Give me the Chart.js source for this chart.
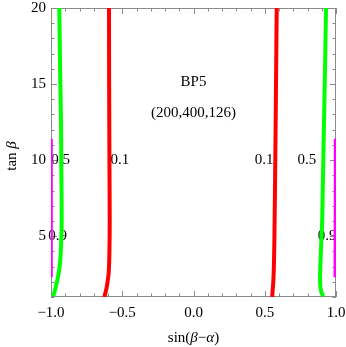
<!DOCTYPE html>
<html>
<head>
<meta charset="utf-8">
<script src="https://cdn.jsdelivr.net/npm/chart.js@4/dist/chart.umd.min.js"></script>
<style>
  html, body { margin: 0; padding: 0; background: #fff; }
  #wrap { width: 346px; height: 347px; }
</style>
</head>
<body>
<div id="wrap"><canvas id="c"></canvas></div>
<script>
// contour curves: tan(beta) values and matching sin(beta-alpha) values
const greenLeftTan = [1.05, 1.64, 2.3, 3.2, 4.5, 6, 10, 12.6, 16, 20];
const greenLeftSin = [-0.984, -0.967, -0.951, -0.937, -0.929, -0.925, -0.928, -0.93, -0.936, -0.942];

const redLeftTan = [1, 1.5, 2, 2.6, 4, 6, 10, 15, 20];
const redLeftSin = [-0.626, -0.612, -0.603, -0.595, -0.59, -0.588, -0.59, -0.592, -0.593];

const redRightTan = [1, 1.5, 2, 3, 5, 10, 15, 20];
const redRightSin = [0.552, 0.556, 0.56, 0.564, 0.568, 0.574, 0.579, 0.584];

const greenRightTan = [1.05, 1.3, 1.7, 2.3, 3, 4.7, 6, 8, 12.6, 16, 20];
const greenRightSin = [0.911, 0.898, 0.89, 0.888, 0.89, 0.897, 0.903, 0.907, 0.916, 0.923, 0.93];

const magentaLeftTan = [2.3, 5, 8, 11.4];
const magentaLeftSin = [-0.998, -0.998, -0.998, -0.998];

const magentaRightTan = [2.3, 5, 8, 11.4];
const magentaRightSin = [0.993, 0.994, 0.995, 0.995];

// contour labels
const contourLabels = ['0.5', '0.1', '0.1', '0.5', '0.9', '0.9'];
const contourLabelSin = [-0.933, -0.516, 0.495, 0.796, -0.954, 0.937];
const contourLabelTan = [10, 10, 10, 10, 5, 5];

const noteLines = ['BP5', '(200,400,126)'];
const noteTan = [15.1, 13.1];

const xTicks = [-1, -0.5, 0, 0.5, 1];
const yTicks = [5, 10, 15, 20];

const serif = "'Liberation Serif', 'Times New Roman', serif";

function pts(xs, ys) {
  return xs.map((x, i) => ({ x: x, y: ys[i] }));
}

function curve(label, xs, ys, color, w) {
  return {
    label: label,
    data: pts(xs, ys),
    showLine: true,
    borderColor: color,
    backgroundColor: color,
    borderWidth: w,
    pointRadius: 0,
    tension: 0.35,
    borderCapStyle: 'butt'
  };
}

// draw text pieces, [text, italic], centred at (cx, cy)
function mixedText(ctx, parts, cx, cy) {
  const fonts = parts.map(p => (p[1] ? 'italic ' : '') + '15px ' + serif);
  let total = 0;
  const widths = parts.map((p, i) => { ctx.font = fonts[i]; const w = ctx.measureText(p[0]).width; total += w; return w; });
  let x = cx - total / 2;
  ctx.textAlign = 'left';
  parts.forEach((p, i) => {
    ctx.font = fonts[i];
    ctx.fillText(p[0], x, cy);
    x += widths[i];
  });
  ctx.textAlign = 'center';
}

const framePlugin = {
  id: 'frame',
  beforeDatasetsDraw(chart) {
    const { ctx, chartArea: a, scales } = chart;
    const xs = scales.x, ys = scales.y;
    ctx.save();
    ctx.strokeStyle = '#8a8a8a';
    ctx.lineWidth = 1;
    ctx.strokeRect(a.left + 0.5, a.top + 0.5, a.right - a.left - 1, a.bottom - a.top - 1);
    ctx.beginPath();
    for (let i = -10; i <= 10; i++) {
      const v = i / 10;
      const len = i % 5 === 0 ? 6 : 3.5;
      const px = Math.round(xs.getPixelForValue(v)) + 0.5;
      ctx.moveTo(px, a.bottom); ctx.lineTo(px, a.bottom - len);
      ctx.moveTo(px, a.top); ctx.lineTo(px, a.top + len);
    }
    for (let v = 1; v <= 20; v++) {
      const len = v % 5 === 0 ? 6 : 3.5;
      const py = Math.round(ys.getPixelForValue(v)) + 0.5;
      ctx.moveTo(a.left, py); ctx.lineTo(a.left + len, py);
      ctx.moveTo(a.right, py); ctx.lineTo(a.right - len, py);
    }
    ctx.stroke();

    // contour labels
    ctx.fillStyle = '#000';
    ctx.font = '15px ' + serif;
    ctx.textAlign = 'center';
    ctx.textBaseline = 'middle';
    contourLabels.forEach((t, i) => {
      ctx.fillText(t, xs.getPixelForValue(contourLabelSin[i]), ys.getPixelForValue(contourLabelTan[i]));
    });
    noteLines.forEach((t, i) => {
      ctx.fillText(t, xs.getPixelForValue(0), ys.getPixelForValue(noteTan[i]));
    });

    // axis titles
    mixedText(ctx, [['sin(', false], ['β', true], ['−', false], ['α', true], [')', false]], (a.left + a.right) / 2, 338);
    ctx.translate(12, 156);
    ctx.rotate(-Math.PI / 2);
    mixedText(ctx, [['tan ', false], ['β', true]], 0, 0);
    ctx.restore();
  }
};

new Chart(document.getElementById('c'), {
  type: 'scatter',
  data: {
    datasets: [
      curve('0.9 left', magentaLeftSin, magentaLeftTan, '#ff00ff', 3),
      curve('0.5 left', greenLeftSin, greenLeftTan, '#00ff00', 4),
      curve('0.1 left', redLeftSin, redLeftTan, '#ff0000', 4),
      curve('0.1 right', redRightSin, redRightTan, '#ff0000', 4),
      curve('0.5 right', greenRightSin, greenRightTan, '#00ff00', 4),
      curve('0.9 right', magentaRightSin, magentaRightTan, '#ff00ff', 3)
    ]
  },
  options: {
    responsive: true,
    maintainAspectRatio: false,
    animation: false,
    layout: { padding: { top: 8, right: 10, left: 0, bottom: 0 } },
    plugins: {
      legend: { display: false },
      tooltip: { enabled: false }
    },
    scales: {
      x: {
        type: 'linear',
        min: -1,
        max: 1,
        afterBuildTicks: (s) => { s.ticks = xTicks.map(v => ({ value: v })); },
        afterFit: (s) => { s.height = 50; s.paddingLeft = 0; s.paddingRight = 0; },
        grid: { display: false, drawTicks: false },
        border: { display: false },
        ticks: {
          color: '#000',
          font: { family: serif, size: 15 },
          padding: 7,
          maxRotation: 0,
          callback: (v) => v.toFixed(1).replace('-', '−')
        }
      },
      y: {
        type: 'linear',
        min: 1,
        max: 20,
        afterBuildTicks: (s) => { s.ticks = yTicks.map(v => ({ value: v })); },
        afterFit: (s) => { s.width = 51; s.paddingTop = 0; s.paddingBottom = 0; },
        grid: { display: false, drawTicks: false },
        border: { display: false },
        ticks: {
          color: '#000',
          font: { family: serif, size: 15 },
          padding: 5,
          callback: (v) => String(v)
        }
      }
    }
  },
  plugins: [framePlugin]
});
</script>
</body>
</html>
